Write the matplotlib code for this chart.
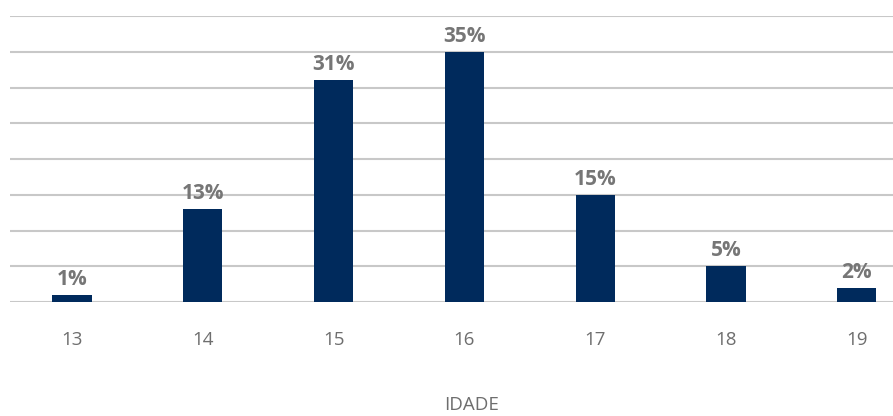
import matplotlib
matplotlib.use('Agg')
import matplotlib.pyplot as plt

idades = ['13', '14', '15', '16', '17', '18', '19']
percentuais = [1, 13, 31, 35, 15, 5, 2]
rotulos = ['1%', '13%', '31%', '35%', '15%', '5%', '2%']

plt.rcParams['font.family'] = ['Open Sans', 'DejaVu Sans']

fig = plt.figure(figsize=(8.93, 4.16), dpi=100)
ax = fig.add_axes([10 / 893, (416 - 302) / 416, 883 / 893, (302 - 16) / 416])

x = list(range(len(idades)))
ax.bar(x, percentuais, width=0.30, color='#002a5c', zorder=3)
for xi, v, r in zip(x, percentuais, rotulos):
    ax.text(xi, v + 0.7, r, ha='center', va='bottom', fontsize=15,
            fontweight='bold', color='#767676')

ax.set_xlim(-62 / 130.8, 821 / 130.8)
ax.set_ylim(0, 40)
ax.set_yticks(range(0, 41, 5))
ax.yaxis.grid(True, color='#c8c8c8', linewidth=1.5)
ax.tick_params(axis='y', left=False, labelleft=False)
ax.set_xticks(x)
ax.set_xticklabels(idades, fontsize=13.5, color='#6e6e6e')
ax.tick_params(axis='x', length=0, pad=21)
for s in ax.spines.values():
    s.set_visible(False)

fig.text(472 / 893, 2 / 416, 'IDADE', ha='center', va='bottom', fontsize=13.5,
         color='#6e6e6e')

fig.savefig('out.png', dpi=100)
